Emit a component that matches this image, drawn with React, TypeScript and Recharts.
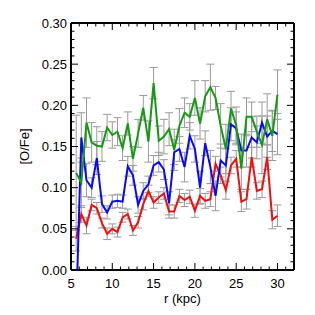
import { LineChart, Line, XAxis, YAxis, ErrorBar } from "recharts"

// bin centres, kpc
const radius = [
  5.625, 6.25, 6.875, 7.5, 8.125, 8.75, 9.375, 10, 10.625, 11.25, 11.875, 12.5,
  13.125, 13.75, 14.375, 15, 15.625, 16.25, 16.875, 17.5, 18.125, 18.75, 19.375,
  20, 20.625, 21.25, 21.875, 22.5, 23.125, 23.75, 24.375, 25, 25.625, 26.25,
  26.875, 27.5, 28.125, 28.75, 29.375, 30,
]

const green = [
  0.118, 0.106, 0.179, 0.155, 0.151, 0.15, 0.173, 0.164, 0.168, 0.148, 0.178,
  0.135, 0.166, 0.197, 0.156, 0.227, 0.157, 0.162, 0.171, 0.146, 0.175, 0.191,
  0.186, 0.209, 0.178, 0.211, 0.222, 0.209, 0.175, 0.147, 0.196, 0.176, 0.123,
  0.186, 0.186, 0.168, 0.152, 0.183, 0.163, 0.213,
]
const greenErr = [
  0.07, 0.03, 0.03, 0.024, 0.023, 0.018, 0.016, 0.016, 0.017, 0.015, 0.014,
  0.015, 0.017, 0.015, 0.025, 0.019, 0.018, 0.021, 0.02, 0.025, 0.021, 0.018,
  0.016, 0.021, 0.019, 0.019, 0.028, 0.014, 0.027, 0.03, 0.021, 0.022, 0.025,
  0.023, 0.018, 0.019, 0.035, 0.031, 0.03, 0.03,
]

// first blue bin sits below zero, off the plot
const blue = [
  -0.05, 0.161, 0.109, 0.1, 0.136, 0.08, 0.07, 0.083, 0.084, 0.083, 0.126,
  0.115, 0.079, 0.096, 0.104, 0.127, 0.131, 0.122, 0.081, 0.143, 0.147, 0.125,
  0.163, 0.147, 0.1, 0.154, 0.125, 0.09, 0.133, 0.127, 0.177, 0.172, 0.145,
  0.145, 0.161, 0.155, 0.179, 0.162, 0.169, 0.165,
]
const blueErr = [
  null, 0.03, 0.02, 0.012, 0.02, 0.01, 0.008, 0.008, 0.008, 0.008, 0.012,
  0.012, 0.01, 0.01, 0.01, 0.012, 0.012, 0.012, 0.014, 0.015, 0.015, 0.018,
  0.016, 0.016, 0.02, 0.015, 0.02, 0.018, 0.02, 0.02, 0.02, 0.02, 0.02, 0.02,
  0.025, 0.02, 0.025, 0.025, 0.025, 0.025,
]

const red = [
  0.038, 0.068, 0.054, 0.079, 0.075, 0.057, 0.044, 0.05, 0.046, 0.064, 0.068,
  0.048, 0.058, 0.08, 0.096, 0.082, 0.088, 0.093, 0.071, 0.071, 0.09, 0.085,
  0.089, 0.072, 0.09, 0.084, 0.086, 0.129, 0.115, 0.097, 0.127, 0.135, 0.083,
  0.086, 0.137, 0.096, 0.098, 0.137, 0.061, 0.066,
]
const redErr = [
  0.015, 0.01, 0.01, 0.007, 0.007, 0.006, 0.007, 0.006, 0.006, 0.006, 0.006,
  0.006, 0.007, 0.007, 0.007, 0.007, 0.007, 0.007, 0.008, 0.008, 0.008, 0.008,
  0.008, 0.008, 0.009, 0.009, 0.009, 0.009, 0.01, 0.011, 0.01, 0.01, 0.012,
  0.012, 0.012, 0.01, 0.01, 0.015, 0.011, 0.013,
]

const xTicks = [
  5, 6, 7, 8, 9, 10, 11, 12, 13, 14, 15, 16, 17, 18, 19, 20, 21, 22, 23, 24, 25,
  26, 27, 28, 29, 30, 31, 32,
]
const xLabels = [5, 10, 15, 20, 25, 30]
const yTicks = [
  0, 0.01, 0.02, 0.03, 0.04, 0.05, 0.06, 0.07, 0.08, 0.09, 0.1, 0.11, 0.12,
  0.13, 0.14, 0.15, 0.16, 0.17, 0.18, 0.19, 0.2, 0.21, 0.22, 0.23, 0.24, 0.25,
  0.26, 0.27, 0.28, 0.29, 0.3,
]
const yLabels = [0, 0.05, 0.1, 0.15, 0.2, 0.25, 0.3]

const data = radius.map((r, i) => ({
  r,
  green: green[i],
  greenErr: greenErr[i],
  blue: blue[i],
  blueErr: blueErr[i],
  red: red[i],
  redErr: redErr[i],
}))

const isMajor = (v: number, list: number[]) =>
  list.some((m) => Math.abs(m - v) < 1e-6)

const frame = { stroke: "#000", strokeWidth: 2 }

function BottomTick({ x, y, payload }: any) {
  const major = isMajor(payload.value, xLabels)
  return (
    <g>
      <line x1={x} x2={x} y1={y} y2={y - (major ? 7 : 3.5)} stroke="#000" />
      {major && (
        <text x={x} y={y + 17.5} textAnchor="middle" fontSize={13} fill="#000">
          {payload.value}
        </text>
      )}
    </g>
  )
}

function TopTick({ x, y, payload }: any) {
  const major = isMajor(payload.value, xLabels)
  return <line x1={x} x2={x} y1={y} y2={y + (major ? 7 : 3.5)} stroke="#000" />
}

function LeftTick({ x, y, payload }: any) {
  const major = isMajor(payload.value, yLabels)
  return (
    <g>
      <line x1={x} x2={x + (major ? 7 : 3.5)} y1={y} y2={y} stroke="#000" />
      {major && (
        <text x={x - 4} y={y + 4.5} textAnchor="end" fontSize={13} fill="#000">
          {payload.value.toFixed(2)}
        </text>
      )}
    </g>
  )
}

function RightTick({ x, y, payload }: any) {
  const major = isMajor(payload.value, yLabels)
  return <line x1={x} x2={x - (major ? 7 : 3.5)} y1={y} y2={y} stroke="#000" />
}

export default function App() {
  return (
    <div
      style={{
        position: "absolute",
        left: 0,
        top: 0,
        width: 315,
        height: 315,
        background: "#fff",
        fontFamily: "'Liberation Sans', Arial, sans-serif",
      }}
    >
      <LineChart
        width={315}
        height={315}
        data={data}
        margin={{ top: 22, right: 20, bottom: 0, left: 0 }}
      >
        <XAxis
          xAxisId="b"
          dataKey="r"
          type="number"
          domain={[5, 32]}
          allowDataOverflow
          ticks={xTicks}
          interval={0}
          height={45}
          tickSize={0}
          tickMargin={0}
          axisLine={frame}
          tickLine={false}
          tick={(p: any) => <BottomTick {...p} />}
          label={{
            value: "r (kpc)",
            position: "insideBottom",
            offset: 12,
            fontSize: 13,
            fill: "#000",
          }}
        />
        <XAxis
          xAxisId="t"
          orientation="top"
          dataKey="r"
          type="number"
          domain={[5, 32]}
          allowDataOverflow
          ticks={xTicks}
          interval={0}
          height={1}
          tickSize={0}
          tickMargin={0}
          axisLine={frame}
          tickLine={false}
          tick={(p: any) => <TopTick {...p} />}
        />
        <YAxis
          yAxisId="l"
          type="number"
          domain={[0, 0.3]}
          allowDataOverflow
          ticks={yTicks}
          interval={0}
          width={71}
          tickSize={0}
          tickMargin={0}
          axisLine={frame}
          tickLine={false}
          tick={(p: any) => <LeftTick {...p} />}
          label={{
            value: "[O/Fe]",
            angle: -90,
            position: "insideLeft",
            offset: 24,
            fontSize: 13,
            fill: "#000",
            style: { textAnchor: "middle" },
          }}
        />
        <YAxis
          yAxisId="r"
          orientation="right"
          type="number"
          domain={[0, 0.3]}
          allowDataOverflow
          ticks={yTicks}
          interval={0}
          width={1}
          tickSize={0}
          tickMargin={0}
          axisLine={frame}
          tickLine={false}
          tick={(p: any) => <RightTick {...p} />}
        />

        {/* error bars first so the coloured lines sit on top */}
        {[
          ["red", "redErr"],
          ["blue", "blueErr"],
          ["green", "greenErr"],
        ].map(([key, err]) => (
          <Line
            key={"e" + key}
            xAxisId="b"
            yAxisId="l"
            dataKey={key}
            stroke="none"
            dot={false}
            activeDot={false}
            isAnimationActive={false}
          >
            <ErrorBar
              dataKey={err}
              direction="y"
              width={4}
              stroke="#9a9a9a"
              strokeWidth={1}
              isAnimationActive={false}
            />
          </Line>
        ))}

        <Line
          xAxisId="b"
          yAxisId="l"
          dataKey="red"
          stroke="#f01010"
          strokeWidth={2}
          dot={false}
          isAnimationActive={false}
        />
        <Line
          xAxisId="b"
          yAxisId="l"
          dataKey="blue"
          stroke="#0a0af5"
          strokeWidth={2}
          dot={false}
          isAnimationActive={false}
        />
        <Line
          xAxisId="b"
          yAxisId="l"
          dataKey="green"
          stroke="#169a16"
          strokeWidth={2}
          dot={false}
          isAnimationActive={false}
        />
      </LineChart>
    </div>
  )
}
